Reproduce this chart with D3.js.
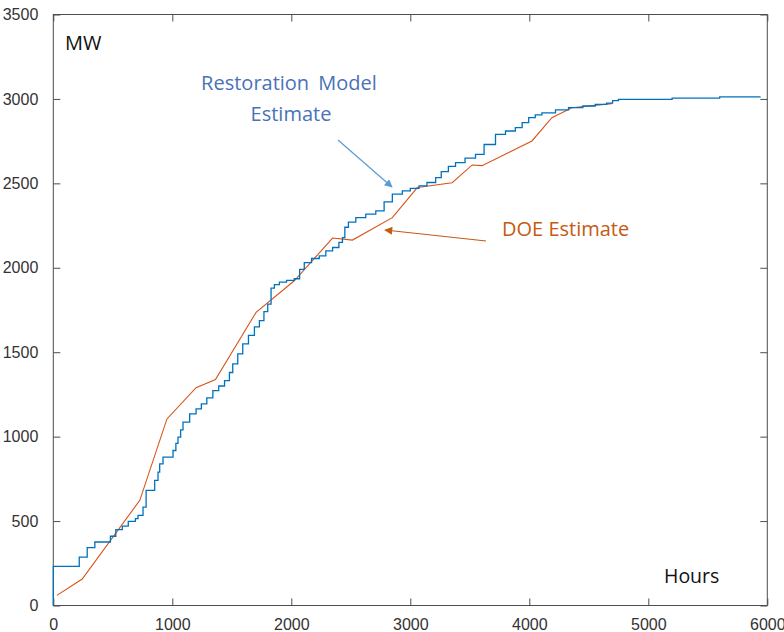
<!DOCTYPE html>
<html>
<head>
<meta charset="utf-8">
<script src="https://cdn.jsdelivr.net/npm/d3@7"></script>
<style>
  body { margin: 0; background: #fff; }
  svg { display: block; }
</style>
</head>
<body>
<div id="chart"></div>
<script>
// Data
var xTicks = [0, 1000, 2000, 3000, 4000, 5000, 6000];
var yTicks = [0, 500, 1000, 1500, 2000, 2500, 3000, 3500];

// Restoration model estimate (step curve): hours, MW
var modelHours = [0, 0, 218, 285, 349, 480, 525, 580, 630, 690, 712, 754, 780, 852, 880, 894, 922,
  1006, 1030, 1048, 1070, 1090, 1146, 1200, 1244, 1290, 1341, 1390, 1439, 1480, 1508, 1550, 1592,
  1640, 1690, 1732, 1770, 1802, 1830, 1858, 1900, 1960, 2025, 2070, 2109, 2170, 2235, 2290, 2347,
  2400, 2430, 2450, 2480, 2542, 2626, 2710, 2780, 2849, 2933, 3000, 3073, 3140, 3213, 3260, 3320,
  3380, 3460, 3548, 3620, 3716, 3800, 3883, 3940, 3995, 4050, 4106, 4220, 4330, 4450, 4554, 4650,
  4700, 4749, 5200, 5600, 5940];
var modelMW = [0, 232, 287, 343, 376, 410, 449, 470, 498, 515, 534, 583, 682, 741, 790, 839, 879,
  918, 960, 997, 1040, 1086, 1135, 1165, 1194, 1230, 1273, 1300, 1332, 1380, 1431, 1490, 1549,
  1600, 1650, 1687, 1740, 1785, 1880, 1900, 1915, 1925, 1935, 1990, 2031, 2055, 2071, 2100, 2120,
  2150, 2179, 2240, 2270, 2297, 2318, 2337, 2390, 2436, 2455, 2470, 2485, 2505, 2534, 2570, 2600,
  2623, 2650, 2672, 2730, 2790, 2810, 2830, 2860, 2889, 2905, 2918, 2935, 2948, 2958, 2968, 2975,
  2990, 2997, 3005, 3012, 3015];

// DOE estimate (piecewise linear): hours, MW
var doeHours = [30, 243, 727, 955, 1200, 1363, 1704, 2025, 2347, 2514, 2849, 3059, 3352, 3520, 3603,
  4022, 4190, 4358, 4693];
var doeMW = [60, 157, 623, 1105, 1290, 1338, 1736, 1923, 2176, 2164, 2297, 2475, 2504, 2609, 2605,
  2751, 2889, 2948, 2972];

var svgWidth = 784;
var svgHeight = 632;

var svg = d3.select("#chart")
            .append("svg")
            .attr("width", svgWidth)
            .attr("height", svgHeight)
            .style("font-family", "'Liberation Sans', Arial, sans-serif");

var x = d3.scaleLinear().domain([0, 6000]).range([53.3, 767.3]);
var y = d3.scaleLinear().domain([0, 3500]).range([605.5, 14.5]);

var axisColor = "#4d4d4d";

// frame
svg.append("rect")
   .attr("x", x(0))
   .attr("y", y(3500))
   .attr("width", x(6000) - x(0))
   .attr("height", y(0) - y(3500))
   .attr("fill", "none")
   .attr("stroke", axisColor)
   .attr("stroke-width", 1);

// axes with inward ticks (bottom/left with labels, top/right mirrored)
var bottomAxis = d3.axisBottom(x).tickValues(xTicks).tickSize(-7).tickPadding(13).tickFormat(d3.format("d"));
var leftAxis = d3.axisLeft(y).tickValues(yTicks).tickSize(-7).tickPadding(15).tickFormat(d3.format("d"));
var topAxis = d3.axisTop(x).tickValues(xTicks).tickSize(-7).tickFormat("");
var rightAxis = d3.axisRight(y).tickValues(yTicks).tickSize(-7).tickFormat("");

function styleAxis(g) {
  g.select(".domain").remove();
  g.selectAll(".tick line").attr("stroke", axisColor);
  g.selectAll(".tick text").attr("fill", "#333").style("font-size", "16px");
}

svg.append("g").attr("transform", `translate(0, ${y(0)})`).call(bottomAxis).call(styleAxis);
svg.append("g").attr("transform", `translate(${x(0)}, 0)`).call(leftAxis).call(styleAxis);
svg.append("g").attr("transform", `translate(0, ${y(3500)})`).call(topAxis).call(styleAxis);
svg.append("g").attr("transform", `translate(${x(6000)}, 0)`).call(rightAxis).call(styleAxis);

// series
var doeData = doeHours.map((h, i) => [h, doeMW[i]]);
var modelData = modelHours.map((h, i) => [h, modelMW[i]]);

svg.append("path")
   .datum(doeData)
   .attr("fill", "none")
   .attr("stroke", "#D95319")
   .attr("stroke-width", 1.1)
   .attr("d", d3.line().x(d => x(d[0])).y(d => y(d[1])));

svg.append("path")
   .datum(modelData)
   .attr("fill", "none")
   .attr("stroke", "#0072BD")
   .attr("stroke-width", 1.3)
   .attr("d", d3.line().curve(d3.curveStepAfter).x(d => x(d[0])).y(d => y(d[1])));

// axis captions
svg.append("text").attr("x", 65).attr("y", 50)
   .style("font-family", "'Open Sans', sans-serif").style("font-size", "20px")
   .attr("fill", "#111").text("MW");
svg.append("text").attr("x", 664).attr("y", 583)
   .style("font-family", "'Open Sans', sans-serif").style("font-size", "19.5px")
   .attr("fill", "#111").text("Hours");

// annotations
var defs = svg.append("defs");
function arrowHead(id, color) {
  defs.append("marker")
      .attr("id", id)
      .attr("viewBox", "0 0 10 10")
      .attr("refX", 9).attr("refY", 5)
      .attr("markerWidth", 10).attr("markerHeight", 8)
      .attr("markerUnits", "userSpaceOnUse")
      .attr("orient", "auto")
      .append("path")
      .attr("d", "M0,0 L10,5 L0,10 z")
      .attr("fill", color);
}
arrowHead("arrowBlue", "#5b9bd5");
arrowHead("arrowOrange", "#c55a11");

var modelLabel = svg.append("text")
   .attr("text-anchor", "middle")
   .style("font-family", "'Open Sans', sans-serif").style("font-size", "20px")
   .attr("fill", "#4a72b8");
modelLabel.append("tspan").attr("x", 289).attr("y", 90).attr("word-spacing", "4px").text("Restoration Model");
modelLabel.append("tspan").attr("x", 291).attr("y", 121).text("Estimate");

svg.append("line")
   .attr("x1", 338).attr("y1", 140).attr("x2", 392).attr("y2", 187)
   .attr("stroke", "#5b9bd5").attr("stroke-width", 1.2)
   .attr("marker-end", "url(#arrowBlue)");

svg.append("text")
   .attr("x", 502).attr("y", 236)
   .style("font-family", "'Open Sans', sans-serif").style("font-size", "20px")
   .attr("fill", "#c55a11")
   .text("DOE Estimate");

svg.append("line")
   .attr("x1", 486).attr("y1", 241).attr("x2", 385).attr("y2", 230)
   .attr("stroke", "#c55a11").attr("stroke-width", 1.2)
   .attr("marker-end", "url(#arrowOrange)");
</script>
</body>
</html>
